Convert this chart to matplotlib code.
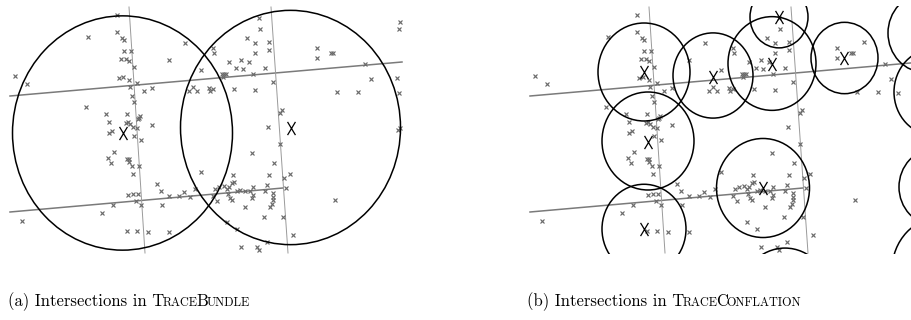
import matplotlib
matplotlib.use("Agg")
import matplotlib.pyplot as plt
from matplotlib.patches import Ellipse
from matplotlib.path import Path

# road centre lines, in panel pixel coordinates
road_x = [[10, 402], [10, 283]]
road_y = [[96, 62], [212, 188]]
street_x = [[129, 145], [271, 288]]
street_y = [[7, 253], [7, 253]]

# GPS trace samples (same for both panels)
trace_x = [88, 117, 117, 122, 124, 124, 131, 121, 126, 129, 134, 15, 27, 119, 123, 129,
           130, 137, 132, 134, 86, 106, 127, 109, 126, 128, 130, 137, 139,
           185, 169, 201, 213, 214, 144, 152, 140, 138, 152, 189, 193, 197, 209, 210, 213,
           222, 224, 226, 223, 234, 255, 229, 236, 241, 243, 249, 253, 265, 255, 255, 247,
           260, 259, 269, 269,
           317, 317, 331, 333, 365, 371, 397, 400, 399, 337, 358, 399, 273, 282, 280, 400,
           112, 109, 114, 108, 111, 127, 129, 129, 134, 132, 133, 128, 133, 138, 113, 102,
           22, 127, 137, 136,
           133, 141, 139, 157, 161, 141, 162, 169, 179, 184, 190, 195, 201, 213, 215, 217,
           219, 224, 227, 229, 232, 234, 233, 228, 230, 232, 237, 240, 245, 250, 253, 253,
           252, 252, 245, 265, 267, 269, 264, 227, 237, 148, 169, 241, 257, 259, 267, 270,
           268, 398, 280, 274, 290, 284, 286, 273, 273, 273, 272, 335, 283, 293]
trace_y = [37, 15, 32, 38, 40, 51, 51, 59, 59, 61, 67, 76, 84, 78, 77, 80,
           87, 83, 96, 102, 107, 114, 114, 122, 123, 122, 124, 128, 118,
           43, 60, 70, 48, 53, 91, 88, 116, 119, 125, 91, 87, 91, 88, 91, 89,
           74, 74, 74, 77, 89, 90, 62, 68, 60, 69, 62, 74, 68, 43, 53, 38,
           29, 18, 42, 50,
           48, 58, 53, 53, 64, 79, 78, 22, 29, 92, 92, 93, 82, 110, 113, 128,
           131, 133, 152, 158, 163, 159, 159, 162, 136, 166, 174, 195, 194, 194, 205, 213,
           221, 231, 231, 201,
           127, 140, 166, 184, 191, 205, 205, 196, 196, 192, 197, 189, 172, 196, 189, 201,
           187, 186, 189, 187, 183, 182, 175, 194, 198, 200, 191, 190, 191, 191, 187, 195,
           198, 153, 207, 191, 185, 175, 217, 222, 229, 232, 232, 247, 247, 250, 242, 207,
           127, 130, 144, 163, 174, 178, 188, 193, 197, 200, 204, 200, 217, 235]

# a few samples only seen in panel (b)
extra_b_x = [344, 378]
extra_b_y = [42, 93]

# (a) TraceBundle intersection circles
bundle_cx = [122.5, 290.5]
bundle_cy = [133, 127.5]
bundle_r = [110, 110]

# (b) TraceConflation intersection circles
confl_cx = [124, 193, 128, 124, 252, 259, 324.5, 243, 265, 405, 415, 415, 422]
confl_cy = [72, 75.5, 141, 229, 63.5, 17, 58, 188, 296, 33, 92, 187, 270]
confl_r = [46, 40, 46, 42, 44, 29, 33.5, 46.5, 45, 37, 41, 36, 50]
confl_mx = [124, 193, 128, 124, 252, 259, 324, 243]
confl_my = [72, 77, 142, 229, 64, 17, 58, 188]

Y_STRETCH = 1.065

big_x = Path([(-0.6, -1), (0.6, 1), (-0.6, 1), (0.6, -1)],
             [Path.MOVETO, Path.LINETO, Path.MOVETO, Path.LINETO])

fig = plt.figure(figsize=(9.12, 3.2), dpi=100)
ax1 = fig.add_axes([0, 66 / 320, 415 / 912, 248 / 320])
ax2 = fig.add_axes([520 / 912, 66 / 320, 392 / 912, 248 / 320])
ax1.set_xlim(0, 415)
ax2.set_xlim(0, 392)


def draw_roads(ax, px, py):
    for xs, ys in zip(road_x, road_y):
        ax.plot(xs, ys, color="#7a7a7a", lw=1.1, zorder=2)
    for xs, ys in zip(street_x, street_y):
        ax.plot(xs, ys, color="#9a9a9a", lw=0.7, zorder=2)
    ax.plot(px, py, ls="none", marker="x", ms=3.0, mew=0.85,
            color="#6a6a6a", zorder=3)


def draw_circles(ax, cx, cy, r, mx, my):
    for x, y, rr in zip(cx, cy, r):
        ax.add_patch(Ellipse((x, y), 2 * rr, 2 * rr * Y_STRETCH, fill=False,
                             ec="black", lw=1.1, zorder=4))
    ax.plot(mx, my, ls="none", marker=big_x, ms=9.5, mew=0.9,
            color="black", zorder=5)


draw_roads(ax1, trace_x, trace_y)
draw_circles(ax1, bundle_cx, bundle_cy, bundle_r, bundle_cx, bundle_cy)
draw_roads(ax2, trace_x + extra_b_x, trace_y + extra_b_y)
draw_circles(ax2, confl_cx, confl_cy, confl_r, confl_mx, confl_my)

for ax in (ax1, ax2):
    ax.set_ylim(254, 6)
    ax.axis("off")

renderer = fig.canvas.get_renderer()


def caption(x, y, pieces):
    for txt, size in pieces:
        t = fig.text(x, y, txt, fontsize=size, family="cmr10", va="baseline")
        x1 = t.get_window_extent(renderer).x1 - 1.5
        x = fig.transFigure.inverted().transform((x1, 0))[0]


BIG, SMALL = 12.0, 8.8
caption(8 / 912, 14 / 320, [("(a) Intersections in T", BIG), ("RACE", SMALL),
                            ("B", BIG), ("UNDLE", SMALL)])
caption(527 / 912, 14 / 320, [("(b) Intersections in T", BIG), ("RACE", SMALL),
                              ("C", BIG), ("ONFLATION", SMALL)])

fig.savefig("out.png", dpi=100)
